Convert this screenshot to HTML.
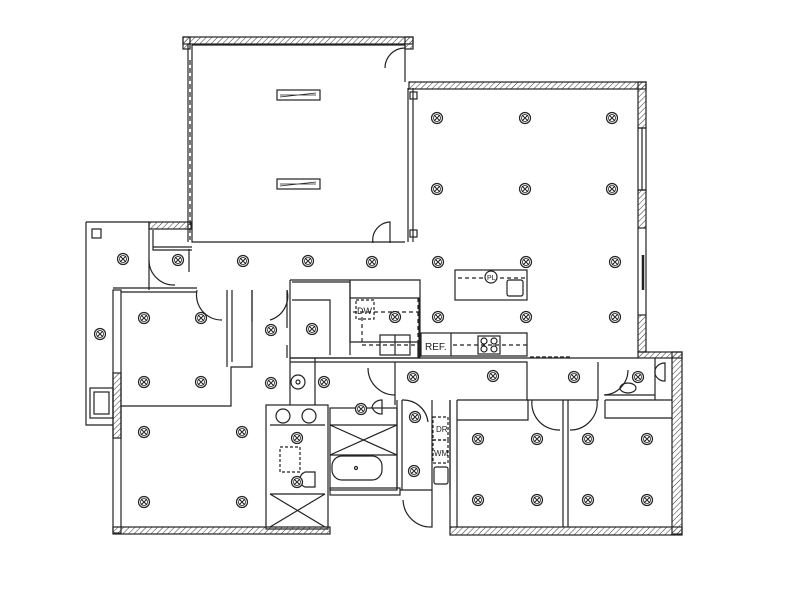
<!DOCTYPE html>
<html><head><style>html,body{margin:0;padding:0;background:#fff}svg{display:block}</style></head>
<body>
<svg width="800" height="600" viewBox="0 0 800 600" xmlns="http://www.w3.org/2000/svg" font-family="Liberation Sans, sans-serif">
<defs>
<pattern id="h" width="4" height="4" patternUnits="userSpaceOnUse" patternTransform="rotate(45)"><line x1="0" y1="0" x2="0" y2="4" stroke="#333" stroke-width="1"/></pattern>
<g id="f"><circle r="5.5" fill="#fff" stroke="#222" stroke-width="1.2"/><circle r="3.5" fill="none" stroke="#222" stroke-width="0.8"/><path d="M-3,-3L3,3M-3,3L3,-3" stroke="#222" stroke-width="1"/></g>
</defs>
<g fill="none" stroke="#222" stroke-width="1.2">
<!-- top room hatched walls -->
<rect x="183" y="37" width="230" height="7" fill="url(#h)"/>
<rect x="183" y="37" width="7" height="12" fill="url(#h)"/>
<rect x="405" y="37" width="8" height="12" fill="url(#h)"/>
<path d="M192,45H405M192,45V242H405M188,44V242"/>
<path d="M190,60V240" stroke-dasharray="5,3"/>
<path d="M405,45V82M408,88V242M413,88V242"/>
<path d="M405,48A20,20 0 0 0 385,68"/>
<path d="M373,243A18,18 0 0 1 390,222V243"/>
<rect x="277" y="90" width="43" height="10"/><path d="M280,97L316,93M280,95H316" stroke-width="0.8"/>
<rect x="277" y="179" width="43" height="10"/><path d="M280,186L316,182M280,184H316" stroke-width="0.8"/>
<!-- right big room -->
<rect x="409" y="82" width="237" height="7" fill="url(#h)"/>
<rect x="638" y="82" width="8" height="46" fill="url(#h)"/>
<rect x="638" y="128" width="8" height="62"/><path d="M642,128V190"/>
<rect x="638" y="190" width="8" height="38" fill="url(#h)"/>
<path d="M646,228V315M638,228V315"/>
<path d="M643,255V290" stroke-width="2.5"/>
<rect x="638" y="315" width="8" height="37" fill="url(#h)"/>
<rect x="638" y="352" width="44" height="6" fill="url(#h)"/>
<rect x="410" y="92" width="7" height="7"/><rect x="410" y="230" width="7" height="7"/>
<!-- left porch -->
<path d="M86,222H149V290M86,222V425H113"/>
<rect x="92" y="229" width="9" height="9"/>
<rect x="90" y="388" width="23" height="30"/><rect x="94" y="392" width="15" height="22"/>
<rect x="149" y="222" width="42" height="7" fill="url(#h)"/>
<path d="M153,230V250H192M153,247H192" />
<path d="M149,260A25,25 0 0 0 175,285" /><path d="M189,249V272"/>
<!-- left master -->
<rect x="113" y="290" width="8" height="243"/>
<rect x="113" y="373" width="8" height="65" fill="url(#h)"/>
<rect x="113" y="527" width="217" height="7" fill="url(#h)"/>
<path d="M113,288H197M121,292H197M121,406H231V367H252V290M227,290V367M232,290V362"/>
<path d="M197,290A25,25 0 0 0 222,320M270,320A25,25 0 0 0 287,290"/>
<path d="M252,290V322M287,290V328M287,345V358"/>
<!-- kitchen -->
<path d="M290,280H420V358H290V280M292,282H350V355"/>
<path d="M292,300H330V355M350,280V298H419V358"/>
<path d="M350,298V342H418V355" />
<path d="M418,298V358M420,312H350" stroke-dasharray="4,3"/>
<path d="M356,300H374V319H356Z" stroke-dasharray="3,2"/>
<path d="M362,317V345H418" stroke-dasharray="4,3"/>
<rect x="380" y="335" width="30" height="20"/><path d="M395,335V355"/>
<rect x="421" y="333" width="30" height="23"/>
<text x="425" y="350" font-size="10" fill="#222" stroke="none">REF.</text>
<path d="M451,333H527V356H451" /><path d="M453,345H527" stroke-dasharray="4,3"/>
<rect x="478" y="336" width="22" height="18"/>
<circle cx="484" cy="341" r="3"/><circle cx="494" cy="341" r="3"/><circle cx="484" cy="349" r="3"/><circle cx="494" cy="349" r="3"/>
<text x="357" y="314" font-size="9" fill="#222" stroke="none">DW</text>
<rect x="455" y="270" width="72" height="30"/><path d="M458,278H527" stroke-dasharray="4,3"/>
<circle cx="491" cy="277" r="6" fill="#fff"/><text x="487" y="280" font-size="7" fill="#222" stroke="none">PL</text>
<rect x="507" y="280" width="16" height="16" rx="2"/>
<!-- hallway -->
<path d="M290,358H638M290,362H395V405M395,362H527V400H598V362"/>
<path d="M530,357H570" stroke-dasharray="4,2"/>
<path d="M395,395A27,27 0 0 1 368,368"/>
<path d="M604,395A25,25 0 0 0 628,370"/>
<!-- right bedrooms -->
<rect x="672" y="352" width="10" height="182" fill="url(#h)"/>
<rect x="450" y="527" width="232" height="8" fill="url(#h)"/>
<path d="M450,400V527M457,400V527M563,400V527M568,400V527M457,400H528V420H457M605,400H672M605,400V418H672"/>
<path d="M532,400A27,27 0 0 0 560,430M570,430A27,27 0 0 0 597,400"/>
<path d="M655,358V400M605,395H655"/>
<ellipse cx="628" cy="388" rx="8" ry="5"/>
<path d="M655,370a10,10 0 0 1 10,-7v18a10,10 0 0 1 -10,-7z"/>
<!-- laundry & bath -->
<path d="M397,400V490M402,400V490M432,400V490M450,400V490"/>
<rect x="433" y="417" width="15" height="23" stroke-dasharray="3,2"/>
<rect x="433" y="440" width="15" height="23" stroke-dasharray="3,2"/>
<text x="436" y="432" font-size="8" fill="#222" stroke="none">DR</text>
<text x="434" y="456" font-size="8" fill="#222" stroke="none">WM</text>
<rect x="434" y="467" width="14" height="17" rx="2"/>
<path d="M402,400A25,25 0 0 1 428,422"/>
<path d="M400,490H432V527A28,28 0 0 1 403,500"/>
<rect x="330" y="408" width="67" height="82"/>
<path d="M330,425H397M330,425L397,455M397,425L330,455M330,455H397"/>
<rect x="332" y="456" width="50" height="24" rx="10"/>
<circle cx="356" cy="468" r="1.5"/>
<path d="M382,400a10,10 0 0 0 -10,7a10,10 0 0 0 10,7z"/>
<rect x="330" y="488" width="70" height="7" />
<rect x="266" y="405" width="62" height="124"/>
<path d="M270,425H325M270,494H325M270,494L325,527M325,494L270,527"/>
<rect x="280" y="447" width="20" height="25" stroke-dasharray="3,2"/>
<circle cx="298" cy="382" r="7"/><circle cx="298" cy="382" r="2"/>
<circle cx="283" cy="416" r="7"/><circle cx="309" cy="416" r="7"/>
<path d="M305,472h10v15h-10a8,8 0 0 1 0,-15z"/>
<path d="M290,358V405M315,358V405"/>
</g>
<g>
<use href="#f" x="437" y="118"/><use href="#f" x="525" y="118"/><use href="#f" x="612" y="118"/>
<use href="#f" x="437" y="189"/><use href="#f" x="525" y="189"/><use href="#f" x="612" y="189"/>
<use href="#f" x="123" y="259"/><use href="#f" x="178" y="260"/><use href="#f" x="243" y="261"/><use href="#f" x="308" y="261"/><use href="#f" x="372" y="262"/><use href="#f" x="438" y="262"/><use href="#f" x="526" y="262"/><use href="#f" x="615" y="262"/>
<use href="#f" x="144" y="318"/><use href="#f" x="201" y="318"/><use href="#f" x="271" y="330"/><use href="#f" x="312" y="329"/><use href="#f" x="100" y="334"/>
<use href="#f" x="395" y="317"/><use href="#f" x="438" y="317"/><use href="#f" x="526" y="317"/><use href="#f" x="615" y="317"/>
<use href="#f" x="144" y="382"/><use href="#f" x="201" y="382"/><use href="#f" x="271" y="383"/><use href="#f" x="324" y="382"/>
<use href="#f" x="413" y="377"/><use href="#f" x="493" y="376"/><use href="#f" x="574" y="377"/><use href="#f" x="638" y="377"/>
<use href="#f" x="144" y="432"/><use href="#f" x="242" y="432"/><use href="#f" x="297" y="438"/><use href="#f" x="297" y="482"/>
<use href="#f" x="144" y="502"/><use href="#f" x="242" y="502"/>
<use href="#f" x="361" y="409"/><use href="#f" x="415" y="417"/><use href="#f" x="414" y="471"/>
<use href="#f" x="478" y="439"/><use href="#f" x="537" y="439"/><use href="#f" x="588" y="439"/><use href="#f" x="647" y="439"/>
<use href="#f" x="478" y="500"/><use href="#f" x="537" y="500"/><use href="#f" x="588" y="500"/><use href="#f" x="647" y="500"/>
</g>
</svg>
</body></html>
